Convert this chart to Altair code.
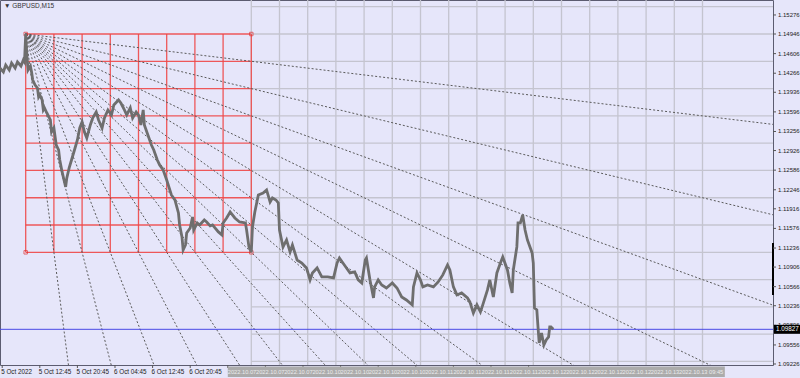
import altair as alt
import pandas as pd

# ---------------- data ----------------
bars = [-22, -19, -17, -14, -12, -9, -7, -4, -2, -1, 0, 1, 2, 4, 5, 6, 8, 10, 11, 12, 14, 15, 16, 18, 21, 22, 24, 26, 28, 29,
        31, 33, 34, 35, 37, 39, 42, 44, 46, 48, 50, 52, 55, 57, 60, 62, 65, 67, 70, 73, 75, 79, 81, 84, 86, 89, 91, 94, 96, 98,
        100, 101, 104, 107, 109, 112, 114, 117, 120, 124, 127, 130, 131, 133, 134, 136, 137, 140, 142, 143, 146, 148, 152, 154,
        157, 159, 164, 167, 168, 171, 174, 178, 182, 187, 188, 190, 192, 193, 195, 198, 202, 205, 208, 210, 213, 215, 216, 219,
        222, 225, 227, 231, 235, 239, 242, 244, 248, 252, 257, 262, 265, 267, 270, 273, 276, 280, 283, 286, 289, 290, 293, 296,
        297, 300, 303, 307, 312, 316, 320, 324, 329, 330, 333, 336, 338, 342, 347, 351, 355, 359, 361, 364, 367, 371, 376, 378,
        381, 384, 387, 389, 393, 395, 398, 401, 404, 406, 410, 412, 414, 415, 418, 419, 421, 423, 425, 427, 431, 432, 433, 435,
        436, 437, 439, 441, 443, 445, 446, 447, 449]
prices = [1.14357, 1.14288, 1.14409, 1.14322, 1.14443, 1.14357, 1.14461, 1.14391, 1.14495, 1.14461, 1.14946, 1.14582,
          1.14322, 1.14391, 1.14288, 1.14149, 1.14062, 1.14010, 1.13854, 1.13889, 1.13802, 1.13629, 1.13664, 1.13577,
          1.13456, 1.13248, 1.13317, 1.13022, 1.12936, 1.12762, 1.12555, 1.12381, 1.12295, 1.12451, 1.12624, 1.12762,
          1.12970, 1.13109, 1.13317, 1.13421, 1.13248, 1.13144, 1.13369, 1.13490, 1.13594, 1.13456, 1.13317, 1.13490,
          1.13629, 1.13542, 1.13716, 1.13802, 1.13750, 1.13629, 1.13542, 1.13664, 1.13490, 1.13594, 1.13542, 1.13369,
          1.13629, 1.13369, 1.13196, 1.13022, 1.12936, 1.12762, 1.12676, 1.12589, 1.12416, 1.12156, 1.12069, 1.11844,
          1.11636, 1.11428, 1.11203, 1.11289, 1.11497, 1.11584, 1.11775, 1.11549, 1.11671, 1.11636, 1.11723, 1.11688,
          1.11619, 1.11636, 1.11515, 1.11463, 1.11671, 1.11757, 1.11861, 1.11757, 1.11688, 1.11671, 1.11549, 1.11255,
          1.11168, 1.11601, 1.11861, 1.12156, 1.12190, 1.12243, 1.12035, 1.12104, 1.12069, 1.12017, 1.11549, 1.11255,
          1.11376, 1.11168, 1.11289, 1.11029, 1.10977, 1.10891, 1.10683, 1.10804, 1.10891, 1.10735, 1.10735, 1.10718,
          1.10977, 1.11064, 1.10977, 1.10891, 1.10804, 1.10822, 1.10683, 1.10631, 1.11029, 1.11064, 1.10683, 1.10371,
          1.10562, 1.10683, 1.10596, 1.10544, 1.10631, 1.10544, 1.10388, 1.10336, 1.10250, 1.10562, 1.10804, 1.10683,
          1.10562, 1.10596, 1.10562, 1.10648, 1.10770, 1.10943, 1.10856, 1.10562, 1.10423, 1.10458, 1.10371, 1.10302,
          1.10111, 1.10250, 1.10128, 1.10250, 1.10510, 1.10683, 1.10388, 1.10804, 1.10977, 1.11081, 1.10856, 1.10631,
          1.10458, 1.10856, 1.11255, 1.11671, 1.11671, 1.11809, 1.11549, 1.11376, 1.11151, 1.10977, 1.10198, 1.10163,
          1.09868, 1.09591, 1.09764, 1.09556, 1.09643, 1.09695, 1.09868, 1.09868, 1.09827]

title_text = "\u25BC GBPUSD,M15"
origin_bar = 0
origin_price = 1.14946
cell_bars = 24
cell_price = 0.00473
grid_n = 8
gray_cols = list(range(8, 25))        # grid columns continued to the right
gray_rows = list(range(-1, 13))       # grid rows continued to the right

y_ticks = [1.15276, 1.14946, 1.14606, 1.14266, 1.13936, 1.13596, 1.13256, 1.12926, 1.12586, 1.12246,
           1.11916, 1.11576, 1.11236, 1.10906, 1.10566, 1.10236, 1.09896, 1.09556, 1.09226]
x_tick_bars = [-20, 12, 44, 76, 108, 140, 172, 204, 236, 268, 300, 332, 364, 396, 428]
x_tick_labels = ["5 Oct 2022", "5 Oct 12:45", "5 Oct 20:45", "6 Oct 04:45", "6 Oct 12:45", "6 Oct 20:45"]
box_labels = ["2022.10.07", "2022.10.07", "2022.10.07", "2022.10.10", "2022.10.10", "2022.10.10", "2022.10.10",
              "2022.10.11", "2022.10.11", "2022.10.11", "2022.10.11", "2022.10.12", "2022.10.12", "2022.10.12",
              "2022.10.12", "2022.10.13", "2022.10.13 09:45"]
box_start_bar = 172
box_end_bar = 595
current_price = 1.09827
range_marker = [1.11323, 1.10422]

x_dom = [-21.87, 636.0]
y_dom = [1.092085, 1.155354]

FONT = "Liberation Sans"
xs = alt.Scale(domain=x_dom, nice=False, zero=False)
ys = alt.Scale(domain=y_dom, nice=False, zero=False)


def X(field):
    return alt.X(field, scale=xs, axis=None, title=None)


def Y(field):
    return alt.Y(field, scale=ys, axis=None, title=None)


# ---------------- tables ----------------
df_price = pd.DataFrame({"bar": bars, "price": prices})
last_bar_right = x_dom[1]
grid_bottom = origin_price - grid_n * cell_price
grid_right = origin_bar + grid_n * cell_bars

df_gv = pd.DataFrame({"bar": [origin_bar + c * cell_bars for c in gray_cols]})
df_gh = pd.DataFrame({"price": [origin_price - r * cell_price for r in gray_rows],
                      "b0": grid_right, "b1": last_bar_right})
df_rv = pd.DataFrame({"bar": [origin_bar + j * cell_bars for j in range(grid_n + 1)],
                      "p0": origin_price, "p1": grid_bottom})
df_rh = pd.DataFrame({"price": [origin_price - k * cell_price for k in range(grid_n + 1)],
                      "b0": origin_bar, "b1": grid_right})
targets = [(grid_right, origin_price - k * cell_price) for k in range(1, grid_n + 1)] + \
          [(origin_bar + j * cell_bars, grid_bottom) for j in range(1, grid_n)]
ext = 6
df_fan = pd.DataFrame({
    "b0": [origin_bar] * len(targets), "p0": [origin_price] * len(targets),
    "b1": [origin_bar + ext * (tb - origin_bar) for tb, tp in targets],
    "p1": [origin_price + ext * (tp - origin_price) for tb, tp in targets],
})
df_corner = pd.DataFrame({"bar": [origin_bar, grid_right, origin_bar, grid_right],
                          "price": [origin_price, origin_price, grid_bottom, grid_bottom]})
df_yt = pd.DataFrame({"price": y_ticks, "t": [f"{v:.5f}" for v in y_ticks]})
df_xt = pd.DataFrame({"bar": x_tick_bars})
df_xl = pd.DataFrame({"bar": x_tick_bars[:len(x_tick_labels)], "t": x_tick_labels})

# ---------------- layers ----------------
gray_v = alt.Chart(df_gv).mark_rule(color="#c4c4cf", strokeWidth=1.3).encode(x=X("bar:Q"))
gray_h = alt.Chart(df_gh).mark_rule(color="#c4c4cf", strokeWidth=1.3).encode(
    y=Y("price:Q"), x=X("b0:Q"), x2="b1:Q")
red_v = alt.Chart(df_rv).mark_rule(color="#ee4747", strokeWidth=1.3, opacity=0.9).encode(
    x=X("bar:Q"), y=Y("p0:Q"), y2="p1:Q")
red_h = alt.Chart(df_rh).mark_rule(color="#ee4747", strokeWidth=1.3, opacity=0.9).encode(
    y=Y("price:Q"), x=X("b0:Q"), x2="b1:Q")
fan = alt.Chart(df_fan).mark_rule(color="#5a5a5a", strokeWidth=1, strokeDash=[2, 2], clip=True).encode(
    x=X("b0:Q"), y=Y("p0:Q"), x2="b1:Q", y2="p1:Q")
corners = alt.Chart(df_corner).mark_point(shape="square", size=12, filled=False, color="#e03030",
                                          strokeWidth=1).encode(x=X("bar:Q"), y=Y("price:Q"))

price_line = alt.Chart(df_price).mark_line(color="#6e6e6e", strokeWidth=2.8, strokeJoin="miter").encode(
    x=X("bar:Q"), y=Y("price:Q"))

blue = alt.Chart(pd.DataFrame({"price": [current_price]})).mark_rule(color="#4a4ae6", strokeWidth=1).encode(
    y=Y("price:Q"))
range_rule = alt.Chart(pd.DataFrame({"p0": [range_marker[0]], "p1": [range_marker[1]]})).mark_rule(
    color="#000000", strokeWidth=2).encode(x=alt.value(773), y=Y("p0:Q"), y2="p1:Q")

# right price axis (ticks + labels)
y_tick_marks = alt.Chart(df_yt).mark_rule(color="#555555", strokeWidth=1).encode(
    y=Y("price:Q"), x=alt.value(773), x2=alt.value(776))
y_tick_labels = alt.Chart(df_yt).mark_text(fontSize=6, align="left", baseline="middle", color="#222222",
                                           font=FONT).encode(y=Y("price:Q"), x=alt.value(778), text="t:N")
# bottom time axis (ticks + labels)
x_tick_marks = alt.Chart(df_xt).mark_rule(color="#555555", strokeWidth=1).encode(
    x=X("bar:Q"), y=alt.value(365), y2=alt.value(368))
x_tick_text = alt.Chart(df_xl).mark_text(fontSize=6.3, align="left", baseline="middle", color="#222222",
                                         font=FONT, dx=-1).encode(x=X("bar:Q"), y=alt.value(371.8), text="t:N")

price_box = alt.Chart(pd.DataFrame({"price": [current_price]})).mark_rect(
    color="#000000", yOffset=-4.5, y2Offset=4.5).encode(
    x=alt.value(774), x2=alt.value(800), y=Y("price:Q"), y2="price:Q")
price_box_text = alt.Chart(pd.DataFrame({"price": [current_price], "t": [f"{current_price:.5f}"]})).mark_text(
    color="#ffffff", fontSize=6.3, align="left", baseline="middle", font=FONT).encode(
    x=alt.value(776), y=Y("price:Q"), text="t:N")

title = alt.Chart(pd.DataFrame({"t": [title_text]})).mark_text(
    fontSize=6.5, align="left", baseline="middle", color="#333333", font=FONT).encode(
    x=alt.value(4), y=alt.value(6), text="t:N")

box = alt.Chart(pd.DataFrame({"b0": [box_start_bar], "b1": [box_end_bar]})).mark_rect(
    color="#ababab").encode(x=X("b0:Q"), x2="b1:Q", y=alt.value(366.5), y2=alt.value(377))
box_text = alt.Chart(pd.DataFrame({"bar": [box_start_bar + i * cell_bars for i in range(len(box_labels))],
                                   "t": box_labels})).mark_text(
    fontSize=5.7, align="left", baseline="middle", color="#ececec", font=FONT).encode(
    x=X("bar:Q"), y=alt.value(371.8), text="t:N")

chart = alt.layer(
    gray_v, gray_h, red_v, red_h, fan, corners, blue, price_line, range_rule,
    y_tick_marks, y_tick_labels, x_tick_marks, x_tick_text,
    box, box_text, price_box, price_box_text, title
).properties(
    width=773, height=365,
    autosize=alt.AutoSizeParams(type="none"),
    padding={"left": 0, "top": 0, "right": 27, "bottom": 13},
    background="#e6e6fa",
).configure_view(stroke="#5c5c70", strokeWidth=1, fill="#e6e6fa")

chart.save("out.html", embed_options={"renderer": "svg", "actions": False})
